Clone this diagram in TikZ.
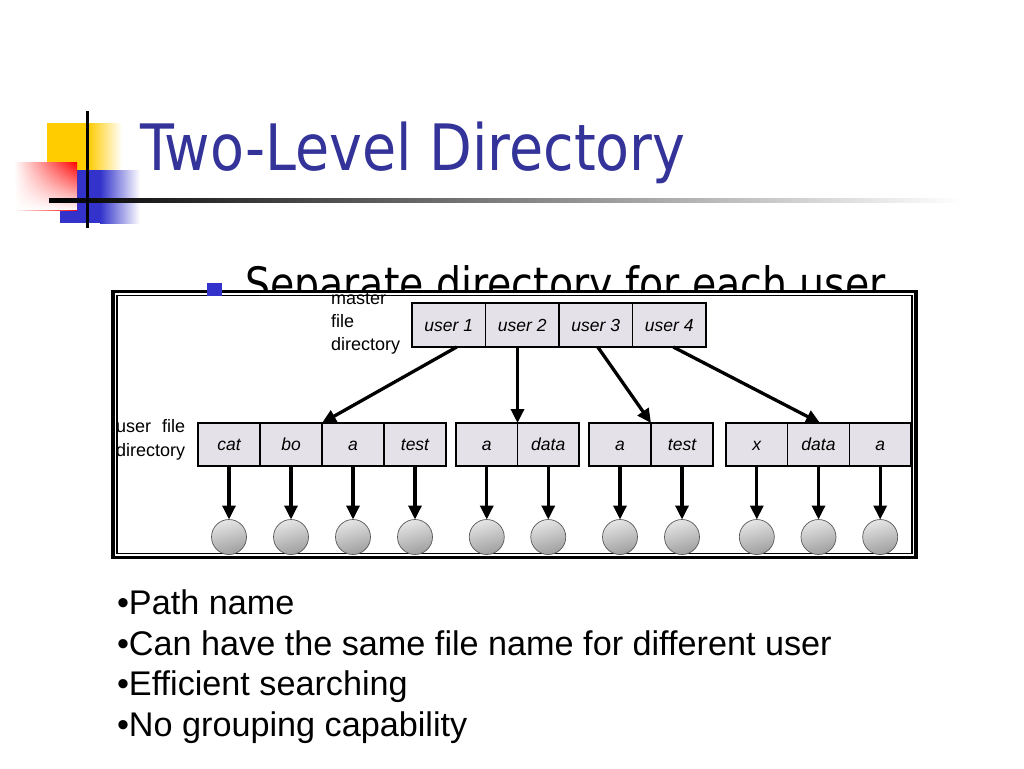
\documentclass[tikz,border=0pt]{standalone}
\usepackage{fontspec}
\setmainfont{Liberation Sans}
\newfontfamily\tahoma{DejaVu Sans}
\usetikzlibrary{arrows.meta,fadings}
\definecolor{titleblue}{RGB}{51,51,153}
\definecolor{decoblue}{RGB}{51,51,204}
\definecolor{decoyellow}{RGB}{255,204,0}
\definecolor{cellgray}{RGB}{228,226,232}

\begin{document}
\begin{tikzpicture}[x=1pt, y=-1pt, every node/.style={outer sep=0pt},
  cell/.style={draw, line width=1.4pt, fill=cellgray, minimum height=43pt, inner sep=0pt, text height=12.5pt, text depth=0pt, font=\fontsize{17.5}{20}\selectfont\itshape},
  mcell/.style={cell, minimum width=73.5pt, minimum height=44pt},
  file/.style={circle, draw=black!65, line width=0.7pt, top color=black!10, bottom color=black!38, shading angle=15, minimum size=35pt, inner sep=0pt},
  ptr/.style={line width=3.3pt, -{Triangle[length=14pt,width=13pt]}},
  point/.style={anchor=base west, inner sep=0pt, font=\fontsize{34.2}{40}\selectfont}]
\useasboundingbox (0,0) rectangle (1024,768);

% title decoration
\fill[decoyellow] (47,123) rectangle (88,171);
\shade[left color=decoyellow, right color=white] (88,123) rectangle (122,171);
\fill[decoblue] (60,170) rectangle (100,223);
\shade[left color=decoblue, right color=white] (100,170) rectangle (140,223);
\shade[left color=white, right color=red] (14,162) rectangle (77,210);
\fill[white, path fading=north] (14,162) rectangle (77,210);
\shade[left color=black, middle color=black!70, right color=white] (49,198) rectangle (962,202);
\draw[line width=3pt] (87,111) -- (87,228);

\node[anchor=base west, inner sep=0pt, text=titleblue, font=\tahoma\fontsize{64}{70}\selectfont] (title) at (140,170) {\scalebox{0.868}[1]{Two-Level Directory}};
\node[anchor=base west, inner sep=0pt, font=\tahoma\fontsize{46}{50}\selectfont] (sub) at (245,300) {\scalebox{0.858}[1]{Separate directory for each user}};

% figure frame
\fill[white] (111,289.5) rectangle (918,559.5);
\draw[line width=3.5pt] (113,291.5) rectangle (916,557.5);
\draw[line width=1.3pt] (117,295.5) rectangle (912,553.5);
\fill[decoblue] (207,283) rectangle (222,296);

% master file directory
\node[anchor=west, align=left, inner sep=0pt, font=\fontsize{18}{23}\selectfont] (mfd) at (331,324) {master\\file\\directory};
\node[mcell] (u1) at (448.75,325) {user 1};
\node[mcell] (u2) at (522.25,325) {user 2};
\node[mcell] (u3) at (595.75,325) {user 3};
\node[mcell] (u4) at (669.25,325) {user 4};

% user file directories
\node[anchor=west, align=left, inner sep=0pt, font=\fontsize{18}{24}\selectfont] (ufd) at (116,440) {user\hspace{11pt}file\\directory};
\node[cell, minimum width=62pt] (cat1) at (229,444.5) {cat};
\node[cell, minimum width=62pt] (bo1) at (291,444.5) {bo};
\node[cell, minimum width=62pt] (a1) at (353,444.5) {a};
\node[cell, minimum width=62pt] (test1) at (415,444.5) {test};
\node[cell, minimum width=61.5pt] (a2) at (486.75,444.5) {a};
\node[cell, minimum width=61.5pt] (data2) at (548.25,444.5) {data};
\node[cell, minimum width=62pt] (a3) at (620,444.5) {a};
\node[cell, minimum width=62pt] (test3) at (682,444.5) {test};
\node[cell, minimum width=61.7pt] (x4) at (756.8,444.5) {x};
\node[cell, minimum width=61.7pt] (data4) at (818.5,444.5) {data};
\node[cell, minimum width=61.7pt] (a4) at (880.2,444.5) {a};

% files
\node[file] (f1) at (229,537) {};
\node[file] (f2) at (291,537) {};
\node[file] (f3) at (353,537) {};
\node[file] (f4) at (415,537) {};
\node[file] (f5) at (486.75,537) {};
\node[file] (f6) at (548.25,537) {};
\node[file] (f7) at (620,537) {};
\node[file] (f8) at (682,537) {};
\node[file] (f9) at (756.8,537) {};
\node[file] (f10) at (818.5,537) {};
\node[file] (f11) at (880.2,537) {};

\draw[ptr] ([xshift=8pt]u1.south) -- (a1.north west);
\draw[ptr] (u2.south -| a2.north east) -- (a2.north east);
\draw[ptr] ([xshift=2pt]u3.south) -- (a3.north east);
\draw[ptr] ([xshift=4pt]u4.south) -- ([xshift=1.5pt]data4.north);

\draw[ptr] (cat1) -- (f1);
\draw[ptr] (bo1) -- (f2);
\draw[ptr] (a1) -- (f3);
\draw[ptr] (test1) -- (f4);
\draw[ptr] (a2) -- (f5);
\draw[ptr] (data2) -- (f6);
\draw[ptr] (a3) -- (f7);
\draw[ptr] (test3) -- (f8);
\draw[ptr] (x4) -- (f9);
\draw[ptr] (data4) -- (f10);
\draw[ptr] (a4) -- (f11);

% bullet points
\node[point] (p1) at (117,614) {•Path name};
\node[point] (p2) at (117,655) {•Can have the same file name for different user};
\node[point] (p3) at (117,695) {•Efficient searching};
\node[point] (p4) at (117,736) {•No grouping capability};
\end{tikzpicture}
\end{document}
